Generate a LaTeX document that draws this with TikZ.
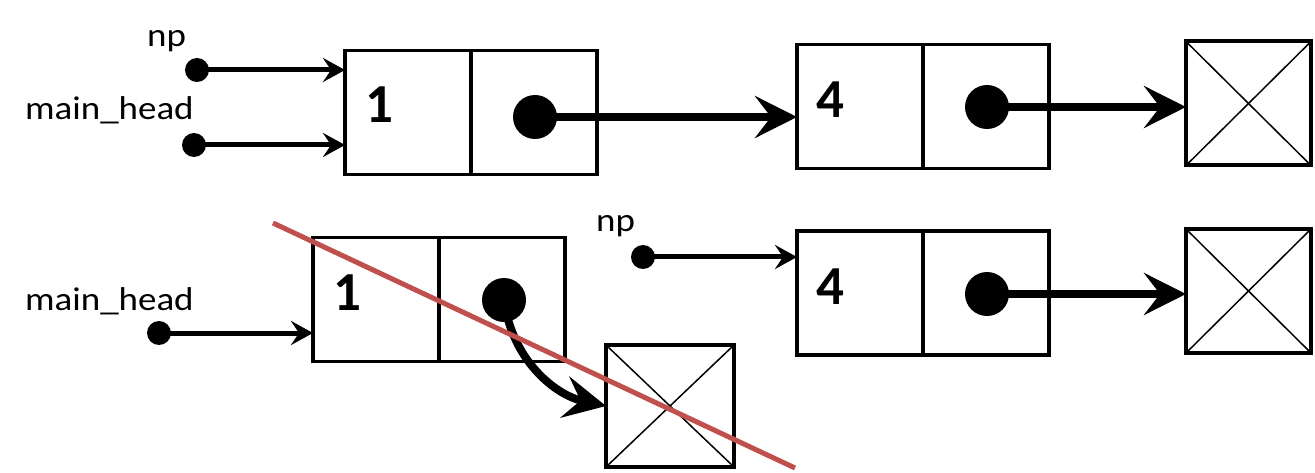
\documentclass[tikz,border=0pt]{standalone}
\usepackage{graphicx}
\usepackage{fontspec}
\setmainfont{Carlito}
\usetikzlibrary{arrows.meta}
\definecolor{crossred}{RGB}{192,80,77}
\begin{document}
\begin{tikzpicture}[x=1pt,y=-1pt,
  cell/.style={draw, line width=3.5pt, minimum width=126pt, minimum height=124pt, inner sep=0pt, outer sep=0pt},
  nullbox/.style={draw, line width=4pt, minimum width=125pt, minimum height=124pt, inner sep=0pt, outer sep=0pt},
  crossline/.style={line width=1.5pt},
  ptrdot/.style={circle, fill, inner sep=0pt, outer sep=0pt, minimum size=44pt},
  vardot/.style={circle, fill, inner sep=0pt, outer sep=0pt, minimum size=24pt},
  varlabel/.style={inner sep=0pt, anchor=base west, font=\fontsize{33}{38}\selectfont},
  digit/.style={inner sep=0pt, font=\fontsize{55}{60}\selectfont\bfseries},
  thinarrow/.style={line width=5pt, -{Stealth[length=22pt, width=24pt, inset=8pt]}},
  thickarrow/.style={line width=8pt, -{Stealth[length=42pt, width=42pt, inset=16pt]}},
  strike/.style={line width=5pt, crossred}
]
\useasboundingbox (0,0) rectangle (1315,473);

% ---------- top row ----------
\node[cell] (v1) at (408,112.5) {};
\node[cell, anchor=west] (p1) at (v1.east) {};
\node[digit] (d1) at (379,105) {1};
\node[ptrdot] (dot1) at (535,117) {};

\node[cell] (v2) at (860,106.5) {};
\node[cell, anchor=west] (p2) at (v2.east) {};
\node[digit] (d2) at (830,100) {4};
\node[ptrdot] (dot2) at (987,107) {};

\node[nullbox] (n1) at (1248.5,103.5) {};
\draw[crossline] (n1.north west) -- (n1.south east);
\draw[crossline] (n1.south west) -- (n1.north east);

\node[varlabel] (np1) at (147,47) {\scalebox{1.12}[1]{np}};
\node[vardot] (npdot1) at (197,70) {};
\node[varlabel] (mh1) at (25,120) {\scalebox{1.12}[1]{main\_head}};
\node[vardot] (mhdot1) at (194,145) {};

\draw[thinarrow] (npdot1.center) -- (npdot1 -| v1.west);
\draw[thinarrow] (mhdot1.center) -- (mhdot1 -| v1.west);
\draw[thickarrow] (dot1.center) -- (dot1 -| v2.west);
\draw[thickarrow] (dot2.center) -- (dot2 -| n1.west);

% ---------- bottom row ----------
\node[cell] (v3) at (376,299.5) {};
\node[cell, anchor=west] (p3) at (v3.east) {};
\node[digit] (d3) at (347,293) {1};
\node[ptrdot] (dot3) at (504,300) {};

\node[nullbox, minimum width=128pt, minimum height=122pt] (n3) at (670,406) {};
\draw[crossline] (n3.north west) -- (n3.south east);
\draw[crossline] (n3.south west) -- (n3.north east);

\node[cell] (v4) at (860,293) {};
\node[cell, anchor=west] (p4) at (v4.east) {};
\node[digit] (d4) at (830,287) {4};
\node[ptrdot] (dot4) at (987,294) {};

\node[nullbox] (n4) at (1248.5,291) {};
\draw[crossline] (n4.north west) -- (n4.south east);
\draw[crossline] (n4.south west) -- (n4.north east);

\node[varlabel] (mh2) at (25,310) {\scalebox{1.12}[1]{main\_head}};
\node[vardot] (mhdot2) at (159,333) {};
\node[varlabel] (np2) at (596,232) {\scalebox{1.12}[1]{np}};
\node[vardot] (npdot2) at (643,257) {};

\draw[thinarrow] (mhdot2.center) -- (mhdot2 -| v3.west);
\draw[thinarrow] (npdot2.center) -- (npdot2 -| v4.west);
\draw[thickarrow] (dot3.center) .. controls (512,360) and (555,395) .. (n3.west);
\draw[thickarrow] (dot4.center) -- (dot4 -| n4.west);

% ---------- strike-through ----------
\coordinate (s1) at (273,223);
\coordinate (s2) at (795,468);
\draw[strike] (s1) -- (s2);
\end{tikzpicture}
\end{document}
